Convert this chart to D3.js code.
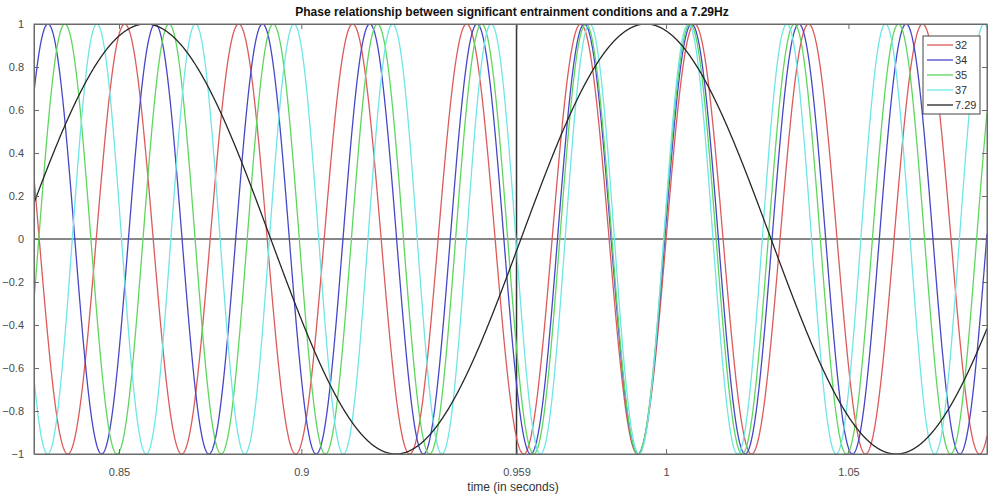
<!DOCTYPE html>
<html>
<head>
<meta charset="utf-8">
<script src="https://cdn.jsdelivr.net/npm/d3@7"></script>
<style>
  body { margin: 0; background: #fff; }
  svg { display: block; }
  text { font-family: "Liberation Sans", Arial, sans-serif; }
</style>
</head>
<body>
<svg id="chart" width="988" height="494"></svg>
<script>
// ---- data ----
const seriesNames = ["32", "34", "35", "37", "7.29"];
const frequencies = [32, 34, 35, 37, 7.29];          // Hz
const extremumTimes = [0.9922, 0.9923, 0.9923, 0.9926, 0.9945]; // time of aligned extremum (s)
const extremumSigns = [-1, -1, -1, -1, 1];          // trough for entrainment tones, peak for 7.29Hz
const seriesColors = ["#dd5a5a", "#4646c8", "#5ed65e", "#6ee6e6", "#262626"];
const xDomain = [0.8267, 1.088];
const xTicks = [0.85, 0.9, 0.959, 1, 1.05];
const xTickLabels = ["0.85", "0.9", "0.959", "1", "1.05"];
const yTicks = [-1, -0.8, -0.6, -0.4, -0.2, 0, 0.2, 0.4, 0.6, 0.8, 1];
const markerTime = 0.959;

// ---- layout ----
const svg = d3.select("#chart");
const L = 34, R = 987, T = 24, B = 454;
const x = d3.scaleLinear().domain(xDomain).range([L, R]);
const y = d3.scaleLinear().domain([-1, 1]).range([B, T]);
const axisColor = "#6a6a6a";

svg.append("defs").append("clipPath").attr("id", "clip")
  .append("rect").attr("x", L).attr("y", T).attr("width", R - L).attr("height", B - T);

// sample times along the axis
const nSamples = 3000;
const times = d3.range(nSamples + 1).map(i => xDomain[0] + (xDomain[1] - xDomain[0]) * i / nSamples);

const g = svg.append("g").attr("clip-path", "url(#clip)");
const line = d3.line().x(d => x(d[0])).y(d => y(d[1]));

// reference lines
g.append("line").attr("x1", L).attr("x2", R).attr("y1", y(0)).attr("y2", y(0))
  .attr("stroke", "#111").attr("stroke-width", 1.2);
g.append("line").attr("x1", x(markerTime)).attr("x2", x(markerTime)).attr("y1", T).attr("y2", B)
  .attr("stroke", "#333").attr("stroke-width", 1.5);

frequencies.forEach((f, i) => {
  const pts = times.map(t => [t, extremumSigns[i] * Math.cos(2 * Math.PI * f * (t - extremumTimes[i]))]);
  g.append("path").datum(pts).attr("d", line)
    .attr("fill", "none").attr("stroke", seriesColors[i]).attr("stroke-width", 1.3);
});

// axes frame
svg.append("rect").attr("x", L).attr("y", T).attr("width", R - L).attr("height", B - T)
  .attr("fill", "none").attr("stroke", axisColor).attr("stroke-width", 1);

const xAxis = d3.axisBottom(x).tickValues(xTicks).tickFormat((d, i) => xTickLabels[i])
  .tickSizeInner(-5).tickSizeOuter(0).tickPadding(14);
const gx = svg.append("g").attr("transform", `translate(0,${B})`).call(xAxis);
const xAxisTop = d3.axisTop(x).tickValues(xTicks).tickFormat("").tickSizeInner(-5).tickSizeOuter(0);
const gxt = svg.append("g").attr("transform", `translate(0,${T})`).call(xAxisTop);

const yAxis = d3.axisLeft(y).tickValues(yTicks).tickFormat(d => d3.format("")(+d.toFixed(1)))
  .tickSizeInner(-5).tickSizeOuter(0).tickPadding(10);
const gy = svg.append("g").attr("transform", `translate(${L},0)`).call(yAxis);
const yAxisRight = d3.axisRight(y).tickValues(yTicks).tickFormat("").tickSizeInner(-5).tickSizeOuter(0);
const gyr = svg.append("g").attr("transform", `translate(${R},0)`).call(yAxisRight);

[gx, gxt, gy, gyr].forEach(a => {
  a.select(".domain").attr("stroke", axisColor);
  a.selectAll(".tick line").attr("stroke", axisColor);
  a.selectAll(".tick text").attr("fill", "#4a4a4a").style("font-size", "11px")
    .style("font-family", "'Liberation Sans', Arial, sans-serif");
});

// title and label
svg.append("text").attr("x", 512).attr("y", 16).attr("text-anchor", "middle")
  .style("font-size", "12px").style("font-weight", "bold").attr("fill", "#111")
  .text("Phase relationship between significant entrainment conditions and a 7.29Hz");
svg.append("text").attr("x", 513).attr("y", 491).attr("text-anchor", "middle")
  .style("font-size", "12px").attr("fill", "#333")
  .text("time (in seconds)");

// legend
const lg = svg.append("g");
lg.append("rect").attr("x", 923).attr("y", 36).attr("width", 57).attr("height", 78)
  .attr("fill", "#fff").attr("stroke", "#444").attr("stroke-width", 1);
seriesNames.forEach((name, i) => {
  const yy = 45 + i * 15;
  lg.append("line").attr("x1", 927).attr("x2", 953).attr("y1", yy).attr("y2", yy)
    .attr("stroke", seriesColors[i]).attr("stroke-width", 1.3);
  lg.append("text").attr("x", 955).attr("y", yy + 4).style("font-size", "11px")
    .attr("fill", "#333").text(name);
});
</script>
</body>
</html>
